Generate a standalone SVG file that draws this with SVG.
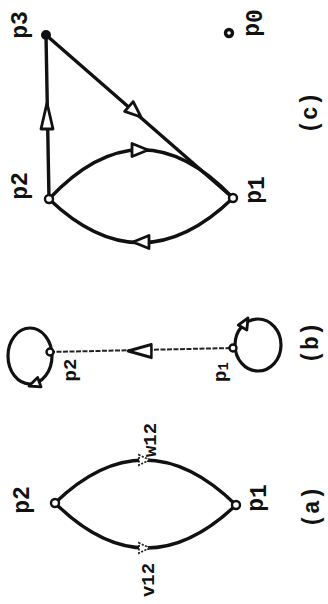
<svg xmlns="http://www.w3.org/2000/svg" xmlns:xlink="http://www.w3.org/1999/xlink" width="328" height="604" viewBox="0 0 328 604">
<style>
text{font-family:"Liberation Mono","DejaVu Sans Mono",monospace;fill:#111;text-anchor:middle;dominant-baseline:central;font-weight:bold}
.lbl{font-size:23px}
.sm{font-size:19px}
.edge{fill:none;stroke:#111;stroke-width:3.4;stroke-linecap:round}
.thin{fill:none;stroke:#222;stroke-width:2;stroke-dasharray:5 1.5}
.node{fill:#fff;stroke:#111;stroke-width:2.4}
.ah{fill:#fff;stroke:#111;stroke-width:2.8;stroke-linejoin:round}
.mk{fill:#fff;stroke:#222;stroke-width:1.8;stroke-dasharray:2 1.5}
</style>
<defs>
<path id="ah" d="M0,0 L-16,-6.5 L-16,6.5 Z"/>
<path id="ahl" d="M0,0 L-26,-6 L-26,6 Z"/>
<path id="ahs" d="M0,0 L-11,-5 L-11,5 Z"/>
</defs>

<g id="connectors">
<!-- (c) -->
<path class="edge" d="M49,199 L46,35"/>
<path class="edge" d="M46,35 L233,198"/>
<path class="edge" d="M49,199 Q141,101 233,198"/>
<path class="edge" d="M49,199 Q141,287 233,198"/>
<use class="ah" href="#ahl" transform="translate(47,103) rotate(-90)"/>
<use class="ah" href="#ah" transform="translate(141,117) rotate(41)"/>
<use class="ah" href="#ah" transform="translate(148,150) rotate(0)"/>
<use class="ah" href="#ah" transform="translate(133,242) rotate(180)"/>
<!-- (b) -->
<path class="thin" d="M50,352 L232,348"/>
<ellipse class="edge" cx="30" cy="356" rx="22" ry="28" style="stroke-width:3.2"/>
<ellipse class="edge" cx="258" cy="345" rx="23" ry="26" style="stroke-width:3.2"/>
<use class="ah" href="#ahl" transform="translate(128,351) rotate(180) scale(0.9,1.1)"/>
<use class="ah" href="#ahs" transform="translate(29,386) rotate(160)"/>
<use class="ah" href="#ahs" transform="translate(248,318) rotate(-60)"/>
<!-- (a) -->
<path class="edge" d="M55,503 Q145,416 236,505"/>
<path class="edge" d="M55,503 Q145,592 236,505"/>
<use class="mk" href="#ahs" transform="translate(150,460) rotate(0)"/>
<use class="mk" href="#ahs" transform="translate(150,548) rotate(0)"/>
</g>

<!-- (c) nodes -->
<g id="c-p3">
<circle cx="46" cy="35" r="4" fill="#111" stroke="#111" stroke-width="2"/>
<text class="lbl" transform="translate(21,25) rotate(-90)">p3</text>
</g>
<g id="c-p2">
<circle class="node" cx="49" cy="199" r="4"/>
<text class="lbl" transform="translate(21,186) rotate(-90)">p2</text>
</g>
<g id="c-p1">
<circle class="node" cx="233" cy="198" r="4"/>
<text class="lbl" transform="translate(255,190) rotate(-90)">p<tspan dy="3">1</tspan></text>
</g>
<g id="c-p0">
<circle cx="229" cy="33" r="3.5" fill="#fff" stroke="#111" stroke-width="3.4"/>
<text class="lbl" transform="translate(253,23) rotate(-90)">p<tspan dy="3">0</tspan></text>
</g>
<g id="c-caption">
<text class="lbl" transform="translate(311,113) rotate(-90)">(c)</text>
</g>

<!-- (b) nodes -->
<g id="b-p2">
<circle class="node" cx="50" cy="352" r="3.5"/>
<text class="sm" transform="translate(71,370) rotate(-90)">p2</text>
</g>
<g id="b-p1">
<circle class="node" cx="233" cy="348" r="3.5"/>
<text class="sm" transform="translate(221,372) rotate(-90)">p<tspan dy="3" font-size="14">1</tspan></text>
</g>
<g id="b-caption">
<text class="lbl" transform="translate(312,343) rotate(-90)">(b)</text>
</g>

<!-- (a) nodes -->
<g id="a-p2">
<circle class="node" cx="55" cy="503" r="4"/>
<text class="lbl" transform="translate(23,500) rotate(-90)">p2</text>
</g>
<g id="a-p1">
<circle class="node" cx="236" cy="505" r="4"/>
<text class="lbl" transform="translate(257,498) rotate(-90)">p<tspan dy="3">1</tspan></text>
</g>
<g id="a-w12">
<text class="sm" transform="translate(151,440) rotate(-90)">w12</text>
</g>
<g id="a-v12">
<text class="sm" transform="translate(149,580) rotate(-90)">v12</text>
</g>
<g id="a-caption">
<text class="lbl" transform="translate(313,507) rotate(-90)">(a)</text>
</g>
</svg>
